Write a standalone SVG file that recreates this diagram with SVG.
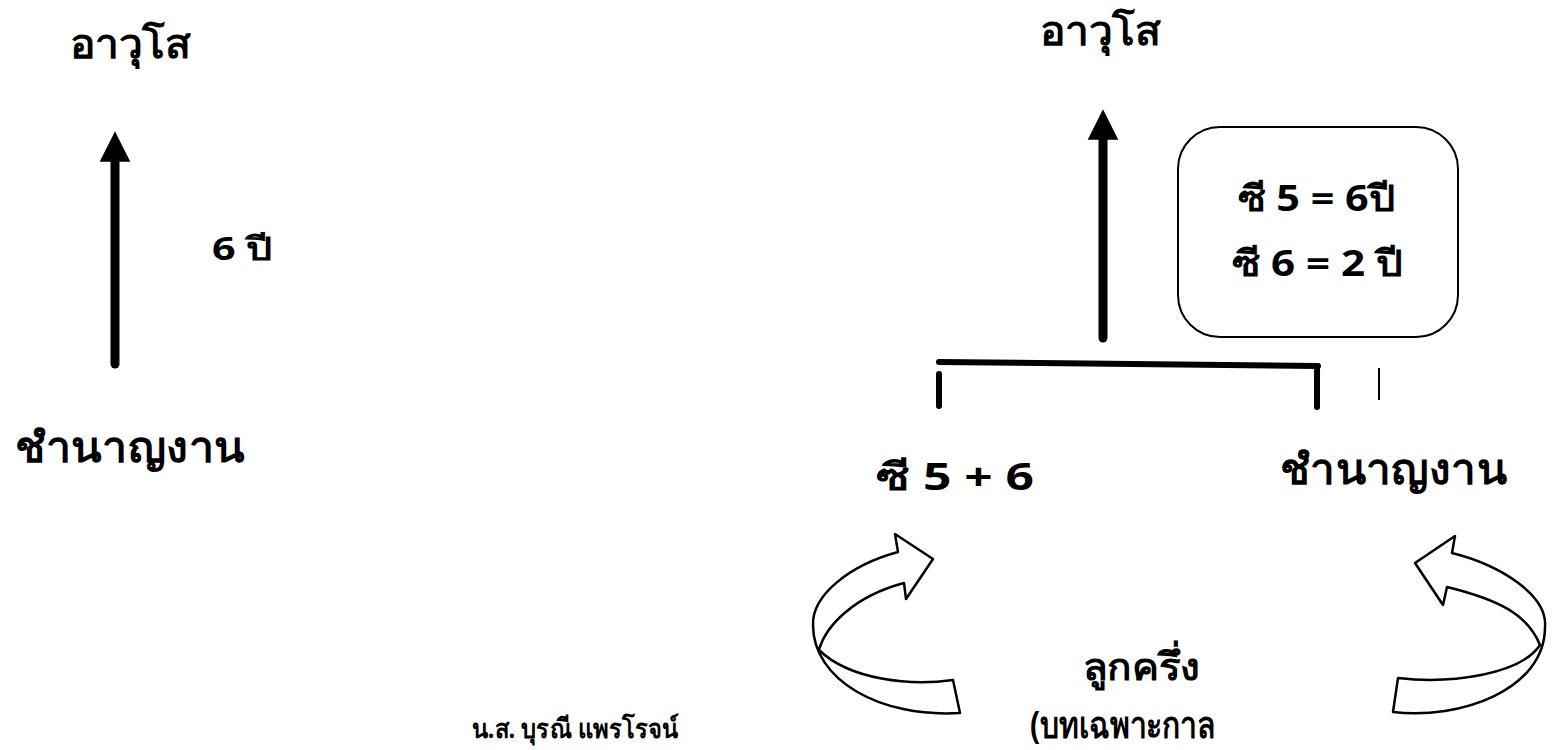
<svg xmlns="http://www.w3.org/2000/svg" width="1556" height="750" viewBox="0 0 1556 750">
<style>
.t{font-family:"Noto Sans","DejaVu Sans",sans-serif;font-weight:bold;fill:#000}
.shaft{stroke:#000;stroke-width:9;stroke-linecap:round;fill:none}
.br{stroke:#000;stroke-width:6;stroke-linecap:round;fill:none}
.curl{fill:#fff;stroke:#000;stroke-width:2.5;stroke-linejoin:round}
</style>
<defs>
<marker id="ah" markerWidth="4" markerHeight="4" refX="0.2" refY="2" orient="auto" markerUnits="strokeWidth" viewBox="0 0 4 4">
<path d="M0,0.3 L3.4,2 L0,3.7 Z" fill="#000"/>
</marker>
</defs>
<rect width="1556" height="750" fill="#fff"/>
<g id="connectors">
<line class="shaft" x1="115" y1="364" x2="115" y2="160" marker-end="url(#ah)"/>
<line class="shaft" x1="1103" y1="338" x2="1103" y2="138" marker-end="url(#ah)"/>
<path class="br" d="M939,362 L1318,366"/>
<path class="br" d="M939,374 L939,406"/>
<path class="br" d="M1317,366 L1317,407"/>
<line x1="1379" y1="368" x2="1379" y2="400" stroke="#000" stroke-width="2"/>
<path id="curl-left" class="curl" d="M953,680 C910,686 850,680 819,650 C826,625 855,596 904,583 L906,599 L933,559 L895,534 L898,552 C850,565 812,595 813,625 C813,680 880,718 960,713 Z"/>
<path id="curl-right" class="curl" d="M1398,678 C1450,684 1520,675 1540,645 C1528,615 1500,600 1447,587 L1443,605 L1415,563 L1455,536 L1452,553 C1500,565 1548,595 1545,627 C1545,690 1460,720 1393,712 Z"/>
</g>
<g id="left-top"><text class="t" x="70" y="58" font-size="40" textLength="120" lengthAdjust="spacingAndGlyphs">อาวุโส</text></g>
<g id="left-years"><text class="t" x="212" y="260" font-size="32" textLength="60" lengthAdjust="spacingAndGlyphs">6 ปี</text></g>
<g id="left-bottom"><text class="t" x="15" y="462" font-size="42" textLength="230" lengthAdjust="spacingAndGlyphs">ชำนาญงาน</text></g>
<g id="right-top"><text class="t" x="1040" y="45" font-size="40" textLength="120" lengthAdjust="spacingAndGlyphs">อาวุโส</text></g>
<g id="box">
<rect x="1178" y="127" width="280" height="210" rx="42" ry="42" fill="#fff" stroke="#000" stroke-width="2"/>
<text class="t" x="1238" y="211" font-size="36" textLength="157" lengthAdjust="spacingAndGlyphs">ซี 5 = 6ปี</text>
<text class="t" x="1232" y="276" font-size="36" textLength="171" lengthAdjust="spacingAndGlyphs">ซี 6 = 2 ปี</text>
</g>
<g id="c56"><text class="t" x="876" y="490" font-size="38" textLength="158" lengthAdjust="spacingAndGlyphs">ซี 5 + 6</text></g>
<g id="right-bottom"><text class="t" x="1280" y="484" font-size="42" textLength="227" lengthAdjust="spacingAndGlyphs">ชำนาญงาน</text></g>
<g id="lukkhrueng">
<text class="t" x="1083" y="680" font-size="38" textLength="117" lengthAdjust="spacingAndGlyphs">ลูกครึ่ง</text>
<text class="t" x="1030" y="738" font-size="38" textLength="185" lengthAdjust="spacingAndGlyphs">(บทเฉพาะกาล</text>
</g>
<g id="author"><text class="t" x="472" y="738" font-size="27" textLength="206" lengthAdjust="spacingAndGlyphs">น.ส. บุรณี แพรโรจน์</text></g>
</svg>
